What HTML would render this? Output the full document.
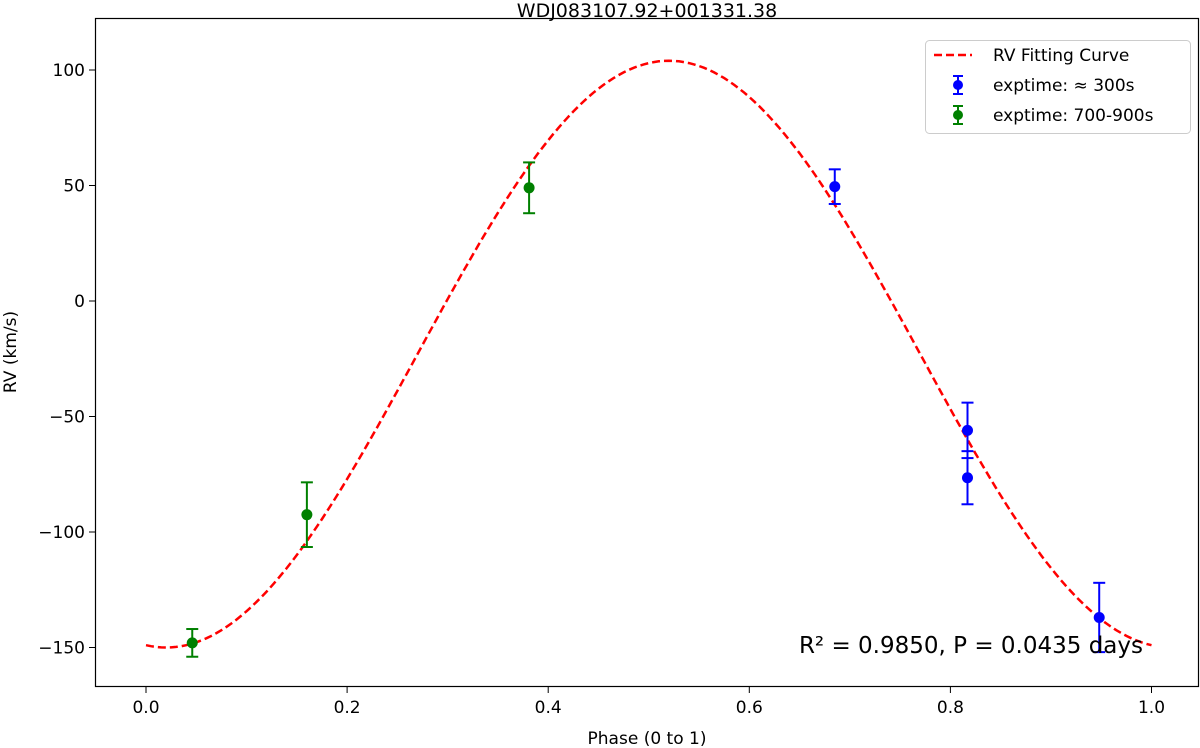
<!DOCTYPE html>
<html><head><meta charset="utf-8"><style>
html,body{margin:0;padding:0;background:#fff;}
svg{display:block;font-family:"DejaVu Sans","Liberation Sans",sans-serif;}
</style></head><body>
<svg id="chart" width="1200" height="748">
<text x="647" y="17" text-anchor="middle" font-size="19">WDJ083107.92+001331.38</text>
<rect x="95.5" y="18.5" width="1103" height="668" fill="none" stroke="#000" stroke-width="1.2"/>
<g id="xticks"></g>
<g id="yticks"></g>
<text x="647" y="744" text-anchor="middle" font-size="17">Phase (0 to 1)</text>
<text transform="translate(16,352) rotate(-90)" text-anchor="middle" font-size="17">RV (km/s)</text>
<g id="curve"></g>
<g id="points"></g>
<text x="1143" y="653" text-anchor="end" font-size="23">R² = 0.9850, P = 0.0435 days</text>
<g>
<rect x="925.5" y="40.5" width="265" height="93" rx="4" fill="#fff" fill-opacity="0.8" stroke="#ccc"/>
<line x1="934" y1="55" x2="972" y2="55" stroke="#f00" stroke-width="2.5" stroke-dasharray="8,4"/>
<text x="993" y="61" font-size="17">RV Fitting Curve</text>
<g><line x1="958" y1="76" x2="958" y2="94" stroke="#00f" stroke-width="2"/><line x1="953" y1="76" x2="963" y2="76" stroke="#00f" stroke-width="2"/><line x1="953" y1="94" x2="963" y2="94" stroke="#00f" stroke-width="2"/><circle cx="958" cy="85" r="5" fill="#00f"/></g>
<text x="993" y="91" font-size="17">exptime: ≈ 300s</text>
<g><line x1="958" y1="106" x2="958" y2="124" stroke="green" stroke-width="2"/><line x1="953" y1="106" x2="963" y2="106" stroke="green" stroke-width="2"/><line x1="953" y1="124" x2="963" y2="124" stroke="green" stroke-width="2"/><circle cx="958" cy="115" r="5" fill="green"/></g>
<text x="993" y="121" font-size="17">exptime: 700-900s</text>
</g>
</svg>
<script>
const xTicks=[0.0,0.2,0.4,0.6,0.8,1.0];
const yTicks=[100,50,0,-50,-100,-150];
const fitParams=[-23,127,0.02]; // gamma, K, phase of minimum
const greenPhase=[0.046,0.160,0.381];
const greenRV=[-148,-92.5,49];
const greenErr=[6,14,11];
const bluePhase=[0.685,0.817,0.817,0.948];
const blueRV=[49.5,-56,-76.5,-137];
const blueErr=[7.5,12,11.5,15];
const NS="http://www.w3.org/2000/svg";
const X=p=>146+p*1005.5;
const Y=v=>301-v*2.31;
function mk(t,a,parent){const e=document.createElementNS(NS,t);for(const k in a)e.setAttribute(k,a[k]);parent.appendChild(e);return e;}
const xg=document.getElementById('xticks'),yg=document.getElementById('yticks');
xTicks.forEach(t=>{const g=mk('g',{},xg);


mk('line',{x1:X(t),x2:X(t),y1:687,y2:693,stroke:'#000'},g);
const tx=mk('text',{x:X(t),y:713,'text-anchor':'middle','font-size':17},g);tx.textContent=t.toFixed(1);});
yTicks.forEach(t=>{const g=mk('g',{},yg);


mk('line',{x1:89,x2:95,y1:Y(t),y2:Y(t),stroke:'#000'},g);
const tx=mk('text',{x:85,y:Y(t)+6,'text-anchor':'end','font-size':17},g);tx.textContent=(t<0?'\u2212'+(-t):''+t);});
let d='';for(let i=0;i<=200;i++){const p=i/200;const v=fitParams[0]-fitParams[1]*Math.cos(2*Math.PI*(p-fitParams[2]));d+=(i?'L':'M')+X(p).toFixed(1)+','+Y(v).toFixed(1);}
const c=mk('path',{d:d,fill:'none',stroke:'#f00','stroke-width':2.5,'stroke-dasharray':'8,4'},document.getElementById('curve'));


const pg=document.getElementById('points');
function pts(ph,rv,er,col,name){ph.forEach((p,i)=>{const g=mk('g',{},pg);


const x=X(p),y1=Y(rv[i]+er[i]),y2=Y(rv[i]-er[i]);
mk('line',{x1:x,x2:x,y1:y1,y2:y2,stroke:col,'stroke-width':2},g);
mk('line',{x1:x-6,x2:x+6,y1:y1,y2:y1,stroke:col,'stroke-width':2},g);
mk('line',{x1:x-6,x2:x+6,y1:y2,y2:y2,stroke:col,'stroke-width':2},g);
mk('circle',{cx:x,cy:Y(rv[i]),r:5.5,fill:col},g);});}
pts(greenPhase,greenRV,greenErr,'green','green-point');
pts(bluePhase,blueRV,blueErr,'#00f','blue-point');
</script>
</body></html>
